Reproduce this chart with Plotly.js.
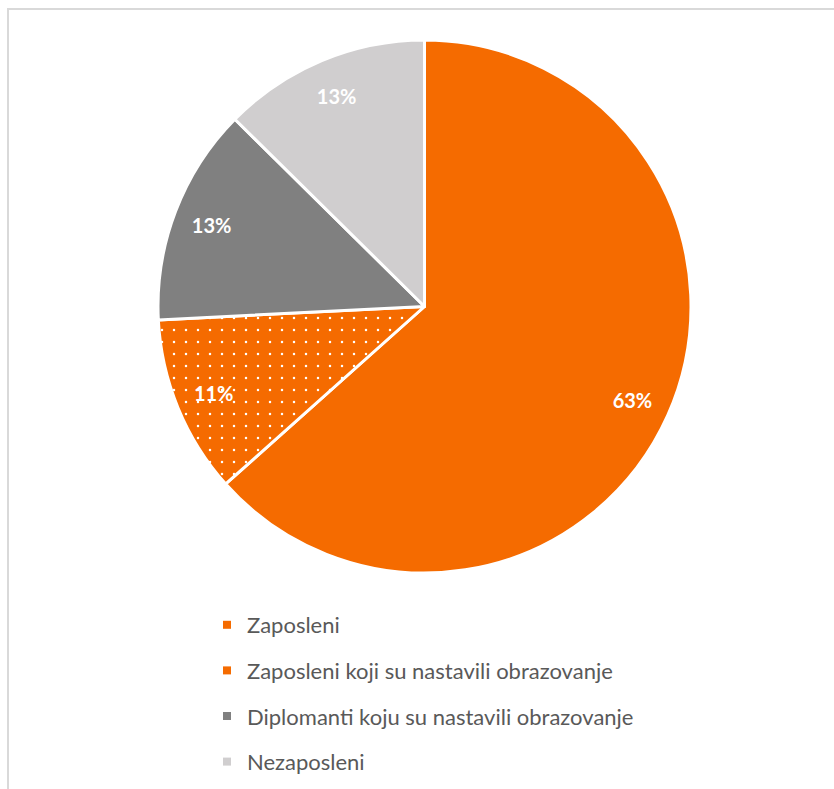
<!DOCTYPE html>
<html>
<head>
<meta charset="utf-8">
<script src="https://cdn.plot.ly/plotly-3.0.1.min.js"></script>
<style>
  html, body { margin: 0; padding: 0; background: #fff; }
  #wrap { position: relative; width: 834px; height: 789px; }
  #chart { position: absolute; left: 0; top: 0; width: 834px; height: 789px; }
  #frame { position: absolute; left: 7px; top: 8px; width: 840px; height: 800px;
           border-left: 2px solid #d9d9d9; border-top: 2px solid #d9d9d9; pointer-events: none; }
</style>
</head>
<body>
<div id="wrap">
  <div id="chart"></div>
  <div id="frame"></div>
</div>
<script>
const categories = [
  'Zaposleni',
  'Zaposleni koji su nastavili obrazovanje',
  'Diplomanti koju su nastavili obrazovanje',
  'Nezaposleni'
];
const shares = [63.4, 10.8, 13.2, 12.6];
const sliceColors = ['#F56B00', '#F56B00', '#808080', '#D0CECF'];
const slicePatterns = ['', '.', '', ''];

const pieDomain = { x: [158/834, 691/834], y: [1 - 573/789, 1 - 40/789] };

// Filled slices
const pie = {
  type: 'pie',
  labels: categories,
  values: shares,
  sort: false,
  direction: 'clockwise',
  rotation: 0,
  showlegend: false,
  domain: pieDomain,
  marker: {
    colors: sliceColors,
    line: { color: '#ffffff', width: 3 },
    pattern: { shape: slicePatterns, fgcolor: '#ffffff', bgcolor: sliceColors,
               fillmode: 'replace', size: 12, solidity: 0.035 }
  },
  textinfo: 'none',
  hoverinfo: 'label+percent'
};

// Transparent ring carrying the percentage labels (places them near the rim)
const labelRing = {
  type: 'pie',
  labels: categories,
  values: shares,
  sort: false,
  direction: 'clockwise',
  rotation: 0,
  hole: 0.71,
  showlegend: false,
  domain: pieDomain,
  marker: { colors: sliceColors.map(() => 'rgba(0,0,0,0)'), line: { width: 0 } },
  texttemplate: '%{percent:.0%}',
  textposition: 'inside',
  insidetextorientation: 'horizontal',
  textfont: { family: 'Lato, sans-serif', size: 20, color: '#ffffff', weight: 700 },
  hoverinfo: 'skip'
};

const legendTraces = categories.map((name, i) => ({
  type: 'scatter',
  mode: 'markers',
  x: [null], y: [null],
  name: name,
  legendgroup: 'g' + i,
  marker: { symbol: 'square', size: 8, color: sliceColors[i] },
  showlegend: true,
  hoverinfo: 'skip'
}));

const layout = {
  width: 834,
  height: 789,
  margin: { l: 0, r: 0, t: 0, b: 0 },
  paper_bgcolor: '#ffffff',
  plot_bgcolor: '#ffffff',
  xaxis: { visible: false },
  yaxis: { visible: false },
  showlegend: true,
  legend: {
    x: 207/834, xanchor: 'left',
    y: 1 - 604/789, yanchor: 'top',
    traceorder: 'grouped',
    tracegroupgap: 14,
    font: { family: 'Lato, sans-serif', size: 22, color: '#595959' },
    bgcolor: 'rgba(0,0,0,0)'
  }
};

Plotly.newPlot('chart', [pie, labelRing, ...legendTraces], layout, { displayModeBar: false, staticPlot: true });
</script>
</body>
</html>
